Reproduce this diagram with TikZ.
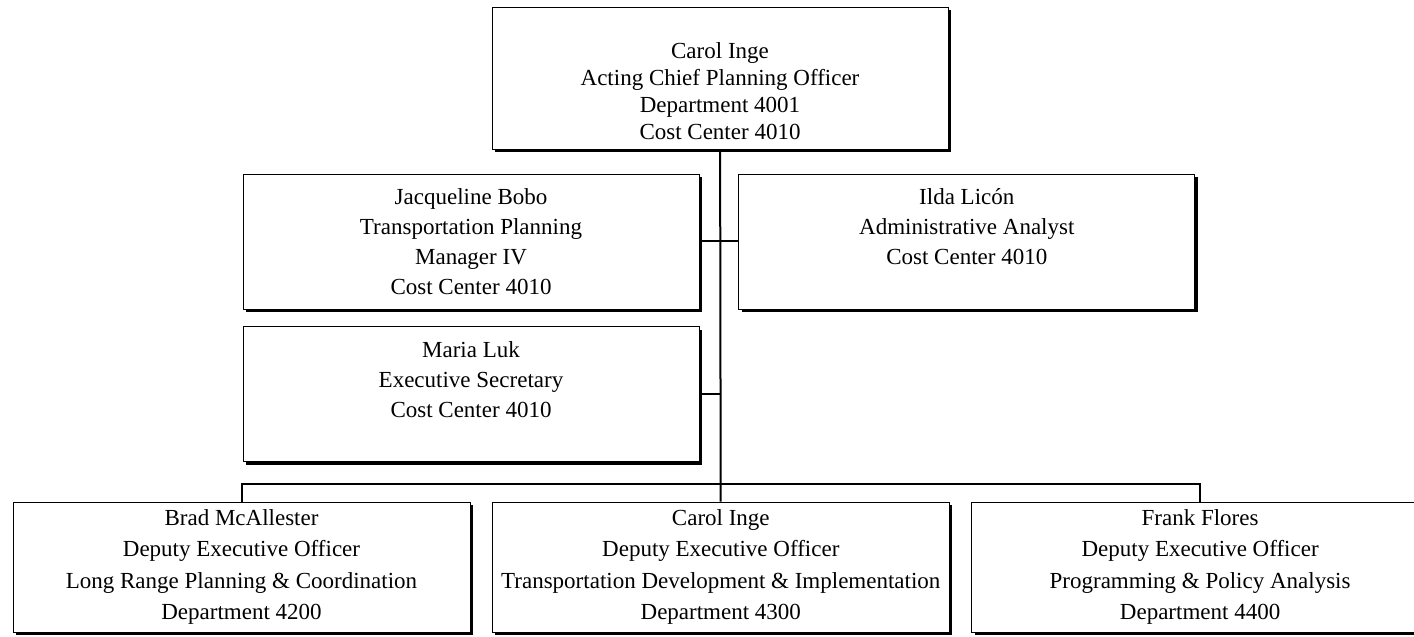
\documentclass[tikz,border=0pt]{standalone}
\usepackage{fontspec}
\setmainfont{Liberation Serif}
\usepackage{tikz}
\usetikzlibrary{positioning}
\usetikzlibrary{shadows}
\tikzset{
    org chart/.style={
            x=1pt,y=1pt,node distance=21.5pt,
            post/.style={draw,line width=0.8pt,fill=white,inner sep=0pt,
                    align=center,minimum width=456pt,minimum height=135pt,
                    drop shadow={shadow xshift=3pt,shadow yshift=-3pt,opacity=1,fill=black},
                    font=\fontsize{23}{30}\selectfont},
            deputy/.style={post,minimum width=457pt,minimum height=130pt,
                    font=\fontsize{23}{31.5}\selectfont},
            link/.style={line width=2pt}
        }
    }

\begin{document}
\begin{tikzpicture}[org chart]
    \useasboundingbox (0,0) rectangle (1414,637);

    \node [post, minimum height=142pt, font=\fontsize{23}{27}\selectfont] (CPO) at (720,559)
        {\rule{0pt}{43pt}Carol Inge\\Acting Chief Planning Officer\\Department 4001\\Cost Center 4010};
    \node [post] (TPM) at (471,395.5) {Jacqueline Bobo\\Transportation Planning\\Manager IV\\Cost Center 4010};
    \node [post, right=39pt of TPM] (AA) {Ilda Licón\\Administrative Analyst\\Cost Center 4010\\\mbox{}};
    \node [post, below=17pt of TPM] (ES) {Maria Luk\\Executive Secretary\\Cost Center 4010\\\mbox{}};

    \node [deputy] (DEO1) at (241.5,70) {Brad McAllester\\Deputy Executive Officer\\Long Range Planning \& Coordination\\Department 4200};
    \node [deputy, right=of DEO1] (DEO2) {Carol Inge\\Deputy Executive Officer\\Transportation Development \& Implementation\\Department 4300};
    \node [deputy, right=of DEO2] (DEO3) {Frank Flores\\Deputy Executive Officer\\Programming \& Policy Analysis\\Department 4400};

    \coordinate (bus) at (720,153);
    \draw [link] (CPO) -- (DEO2);
    \draw [link] (TPM) -- (AA);
    \draw [link] (ES.east) -- (ES.east -| CPO.south);
    \draw [link] (DEO1.north) |- (bus) -| (DEO3.north);
\end{tikzpicture}
\end{document}
